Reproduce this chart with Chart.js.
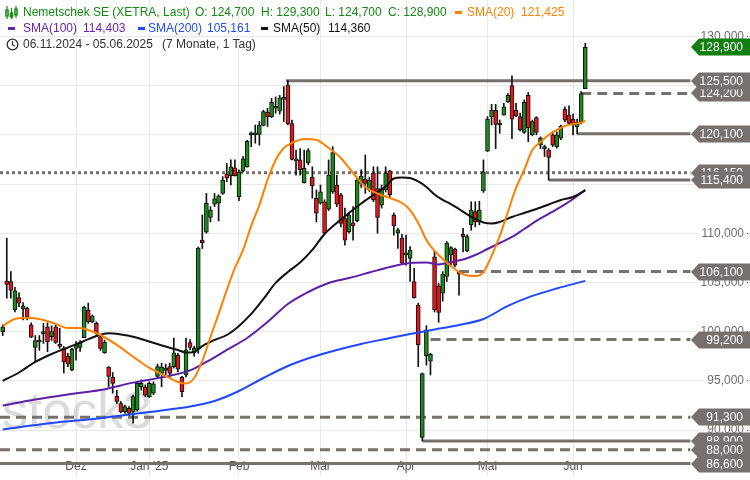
<!DOCTYPE html>
<html>
<head>
<meta charset="utf-8">
<script src="https://cdn.jsdelivr.net/npm/chart.js@4.4.1/dist/chart.umd.min.js"></script>
<style>
  body { margin: 0; background: #fff; }
  #wrap { position: relative; width: 750px; height: 480px; font-family: "Liberation Sans", Arial, sans-serif; font-size: 12px; }
  #c { position: absolute; left: 0; top: 0; }
  .row { position: absolute; left: 0; height: 15px; line-height: 15px; white-space: nowrap; }
  .row > * { position: absolute; top: 0; }
  .dash { display: inline-block; width: 7px; height: 3px; top: 6px !important; }
</style>
</head>
<body>
<div id="wrap">
  <canvas id="c" width="750" height="480"></canvas>
  <div class="row" id="r1" style="top:5px"></div>
  <div class="row" id="r2" style="top:21px"></div>
  <div class="row" id="r3" style="top:37px"></div>
</div>
<script>
// Tageskerzen Nemetschek SE (XETRA), 06.11.2024 - 05.06.2025, Index 0..143
const openP = [
  100.0, 105.15, 105.1, 102.2, 103.45, 102.3, 102.4, 100.7, 98.4, 98.95,
  99.8, 100.5, 99.5, 100.5, 98.7, 98.3, 97.5, 96.1, 98.3, 98.4,
  99.4, 102.2, 101.0, 100.85, 99.5, 97.85, 96.4, 95.35, 93.45, 92.7,
  91.85, 92.2, 91.85, 92.05, 94.4, 94.4, 93.4, 93.75, 95.45, 95.75,
  96.05, 96.45, 96.45, 97.6, 95.35, 95.6, 98.9, 97.85, 98.3, 109.3,
  110.1, 111.6, 112.95, 113.05, 114.05, 116.0, 115.85, 116.65, 113.7, 116.3,
  116.75, 120.0, 120.0, 120.05, 120.95, 122.3, 121.85, 122.7, 122.4, 123.6,
  125.05, 121.15, 117.4, 117.45, 115.15, 117.15, 115.7, 113.55, 113.05, 113.2,
  112.45, 114.2, 114.9, 113.9, 111.5, 110.15, 111.05, 111.25, 115.05, 115.5,
  114.4, 116.1, 114.55, 112.85, 114.4, 116.35, 111.85, 110.0, 109.5, 107.8,
  107.45, 105.1, 102.7, 89.25, 97.55, 97.0, 107.6, 104.65, 103.9, 105.6,
  107.8, 108.4, 106.0, 109.9, 108.2, 110.85, 112.2, 111.15, 114.3, 118.35,
  121.85, 122.5, 121.0, 122.0, 123.35, 125.0, 122.5, 121.85, 120.25, 124.0,
  120.0, 121.75, 118.95, 118.6, 118.45, 120.0, 118.8, 119.65, 122.6, 122.0,
  121.6, 120.8, 121.25, 124.7
];
const highP = [
  100.7, 109.5, 106.1, 104.5, 103.95, 102.95, 102.5, 100.9, 99.6, 99.6,
  100.85, 100.9, 100.6, 100.8, 100.35, 98.5, 97.8, 98.3, 99.0, 99.1,
  102.6, 102.9, 101.7, 101.0, 99.65, 99.15, 96.45, 95.85, 94.05, 92.9,
  92.55, 92.4, 93.55, 94.9, 95.1, 94.6, 94.9, 94.9, 96.7, 96.8,
  96.7, 96.8, 99.35, 97.8, 95.45, 99.35, 99.2, 98.5, 108.6, 111.85,
  114.05, 112.7, 114.05, 113.9, 115.75, 117.1, 117.45, 117.45, 116.45, 117.8,
  119.45, 120.3, 121.0, 121.35, 122.5, 122.7, 123.7, 123.85, 124.0, 124.9,
  125.5, 121.5, 118.45, 118.6, 118.45, 118.6, 116.75, 114.4, 114.9, 113.4,
  117.45, 118.8, 115.9, 114.05, 112.55, 112.05, 112.7, 115.7, 116.45, 117.95,
  115.7, 116.75, 116.75, 114.9, 116.75, 116.4, 112.05, 110.5, 109.9, 109.8,
  108.65, 106.45, 102.9, 95.8, 100.6, 97.8, 108.15, 104.9, 106.1, 109.15,
  108.65, 108.5, 106.1, 110.5, 109.85, 113.2, 113.2, 113.25, 117.45, 121.85,
  123.1, 123.1, 121.5, 123.2, 124.2, 126.0, 123.2, 122.2, 123.55, 124.3,
  121.5, 121.85, 119.8, 118.95, 118.6, 120.3, 120.3, 121.0, 122.85, 122.95,
  122.1, 121.6, 124.4, 129.3
];
const lowP = [
  99.6, 103.4, 103.4, 102.0, 102.55, 101.2, 101.2, 99.4, 96.95, 98.1,
  98.8, 97.95, 99.1, 98.8, 98.3, 95.8, 96.45, 96.0, 97.1, 98.0,
  99.4, 100.85, 100.9, 99.65, 98.1, 97.8, 94.4, 93.75, 92.7, 91.75,
  91.7, 91.5, 90.7, 91.95, 94.05, 93.4, 93.3, 93.6, 95.25, 94.4,
  95.6, 95.45, 96.3, 95.9, 93.4, 95.4, 98.15, 97.5, 97.8, 108.45,
  110.0, 111.15, 112.7, 111.25, 113.95, 115.25, 114.9, 115.8, 113.3, 116.2,
  116.7, 118.8, 119.15, 118.95, 120.9, 120.85, 121.75, 122.2, 122.1, 121.35,
  121.0, 117.45, 115.9, 115.9, 115.1, 116.95, 113.55, 111.15, 112.95, 109.95,
  112.3, 114.05, 112.7, 110.65, 108.8, 110.0, 109.3, 111.15, 114.65, 114.05,
  114.25, 113.2, 110.0, 112.55, 114.2, 113.7, 109.8, 108.45, 106.85, 106.75,
  105.1, 103.4, 96.45, 88.9, 96.6, 95.6, 102.0, 100.95, 103.1, 105.1,
  106.75, 106.6, 103.7, 108.1, 108.1, 110.3, 110.65, 110.85, 114.15, 118.3,
  121.0, 118.6, 120.15, 122.0, 123.3, 119.6, 121.85, 120.4, 120.15, 119.3,
  119.9, 120.0, 118.6, 117.8, 115.4, 118.8, 118.65, 119.5, 121.3, 121.0,
  120.0, 120.1, 121.1, 124.7
];
const closeP = [
  100.5, 104.8, 104.2, 104.15, 102.9, 102.6, 101.5, 99.45, 99.1, 99.05,
  99.85, 98.95, 100.0, 98.9, 98.5, 96.95, 96.7, 98.2, 98.65, 98.9,
  102.5, 101.0, 101.6, 99.85, 98.3, 98.95, 95.45, 94.75, 92.9, 91.85,
  92.4, 91.7, 93.4, 94.75, 94.75, 93.55, 94.75, 94.7, 96.45, 96.4,
  96.3, 95.75, 97.85, 96.2, 93.9, 98.15, 98.4, 98.3, 108.5, 109.05,
  113.05, 112.35, 113.5, 113.8, 115.4, 115.6, 116.75, 115.85, 116.25, 117.55,
  119.35, 120.05, 120.1, 121.0, 122.35, 121.85, 123.3, 122.8, 123.75, 123.7,
  121.1, 117.5, 117.35, 116.45, 116.6, 118.4, 114.8, 112.05, 114.2, 110.0,
  115.9, 118.2, 112.95, 111.0, 109.3, 111.85, 110.75, 115.4, 115.8, 115.05,
  115.4, 113.4, 111.6, 114.55, 116.1, 113.9, 110.75, 110.35, 106.95, 107.9,
  108.3, 103.45, 98.65, 95.75, 100.15, 97.7, 102.2, 101.95, 105.85, 109.0,
  108.55, 106.75, 105.85, 109.65, 109.65, 112.35, 111.15, 112.35, 116.25, 121.6,
  122.5, 121.05, 121.05, 122.85, 124.0, 121.6, 121.95, 120.5, 123.3, 120.7,
  121.35, 120.25, 119.65, 118.65, 117.7, 118.95, 120.0, 120.85, 121.5, 121.15,
  121.05, 121.3, 124.2, 128.9
];

const sma20Idx = [0,3,6,10,13,16,19,21,24,28,32,36,40,43,45,47,49,51,53,55,57,59,61,63,65,67,69,71,74,77,80,83,86,89,92,95,98,100,102,104,106,108,110,112,114,116,118,120,122,124,126,128,130,132,134,136,138,140,142,143];
const sma20Val = [100.58,101.29,101.42,101.19,100.78,100.37,100.37,100.17,99.66,98.65,97.46,96.31,95.50,94.89,94.73,95.29,97.02,99.46,101.80,104.23,106.47,108.30,110.74,112.87,115.41,117.44,118.66,119.17,119.58,119.48,118.66,117.65,116.12,114.70,114.04,113.58,113.07,112.36,111.04,109.31,108.20,107.38,106.67,106.06,105.71,105.66,106.06,107.69,109.72,112.16,114.60,116.43,118.46,119.27,119.98,120.49,120.90,121.10,121.25,121.425];
const sma50Idx = [0,4,8,12,16,20,23,26,29,32,36,40,43,45,47,49,52,55,58,61,64,67,70,73,76,79,82,85,88,91,94,96,98,100,102,104,106,108,110,112,114,116,118,120,122,125,128,131,134,137,140,143];
const sma50Val = [94.99,95.85,96.92,97.73,98.39,99.05,99.56,99.83,99.71,99.49,99.00,98.49,98.14,97.88,97.94,98.54,99.15,99.66,100.58,101.80,103.32,104.95,106.06,107.03,108.30,109.92,111.04,112.06,113.02,113.89,114.75,115.56,115.67,115.61,115.26,114.70,113.94,113.38,112.97,112.46,111.91,111.45,111.09,110.99,111.14,111.65,112.06,112.46,112.92,113.38,113.68,114.36];
const sma100Idx = [0,8,16,24,32,40,46,50,55,60,65,70,75,80,85,90,95,100,104,107,110,113,116,119,122,125,128,131,134,137,140,143];
const sma100Val = [92.50,93.11,93.62,94.07,94.82,95.43,96.06,96.92,98.14,99.36,100.98,102.81,104.03,104.95,105.45,106.01,106.57,106.98,107.03,106.83,107.08,107.33,107.79,108.40,109.01,109.62,110.43,111.25,111.96,112.67,113.48,114.403];
const sma200Idx = [0,12,24,36,46,52,58,64,70,76,82,88,94,100,106,112,118,124,130,136,143];
const sma200Val = [90.06,90.72,91.20,91.84,92.40,92.96,93.97,95.29,96.51,97.43,98.14,98.75,99.26,99.76,100.22,100.68,101.29,102.61,103.63,104.39,105.161];

// Achsen
const monthIdx = [18, 36, 58, 78, 99, 119, 140];
const monthNames = ['Dez', "Jan '25", 'Feb', 'Mär', 'Apr', 'Mai', 'Jun'];
const yTicks = [90, 95, 100, 105, 110, 115, 120, 125, 130];

// Marken (Unterstützung / Widerstand)
const levelVal = [124.2, 125.5, 120.1, 116.15, 115.4, 106.1, 99.2, 91.3, 88.9, 86.6, 88.0];
const levelFrom = [142, 69.5, 141, -1, 134, 112, 105, -1, 103, -1, -1];
const levelStyle = ['dash', 'solid', 'solid', 'dot', 'solid', 'dash', 'dash', 'dash', 'solid', 'solid', 'dash'];

const GRAY = '#76716e';
const fmt = v => v.toFixed(3).replace('.', ',');
const last = closeP.length - 1;

// Legende oben links
function put(row, left, html, color) {
  const s = document.createElement('span');
  s.style.left = left + 'px';
  if (color) s.style.color = color;
  s.innerHTML = html;
  document.getElementById(row).appendChild(s);
  return s;
}
function dash(row, left, color) {
  const s = put(row, left, '', null);
  s.className = 'dash';
  s.style.background = color;
}
const G = '#148a14';
put('r1', 5, '<svg width="13" height="15" viewBox="0 0 13 15"><g stroke="#148a14" stroke-width="1.2" fill="none"><line x1="2" y1="1" x2="2" y2="14"/><rect x="0.8" y="5" width="2.4" height="6"/><line x1="6.5" y1="3" x2="6.5" y2="14"/><rect x="5.3" y="8" width="2.4" height="4"/><line x1="11" y1="1" x2="11" y2="13"/><rect x="9.8" y="4" width="2.4" height="6"/></g></svg>', null);
put('r1', 23, 'Nemetschek SE (XETRA, Last)', G);
put('r1', 195, 'O: ' + fmt(openP[last]), G);
put('r1', 261, 'H: ' + fmt(highP[last]), G);
put('r1', 325, 'L: ' + fmt(lowP[last]), G);
put('r1', 388, 'C: ' + fmt(closeP[last]), G);
dash('r1', 455, '#ff8000');
put('r1', 467, 'SMA(20)', '#ff8000');
put('r1', 521, fmt(sma20Val[sma20Val.length - 1]), '#ff8000');

dash('r2', 8, '#6a22b0');
put('r2', 23, 'SMA(100)', '#6a22b0');
put('r2', 83, fmt(sma100Val[sma100Val.length - 1]), '#6a22b0');
dash('r2', 138, '#1e4dff');
put('r2', 148, 'SMA(200)', '#1e4dff');
put('r2', 207, fmt(sma200Val[sma200Val.length - 1]), '#1e4dff');
dash('r2', 261, '#111');
put('r2', 273, 'SMA(50)', '#111');
put('r2', 328, fmt(sma50Val[sma50Val.length - 1]), '#111');

put('r3', 6, '<svg width="13" height="15" viewBox="0 0 13 15"><circle cx="6.5" cy="7.5" r="5.3" stroke="#333" stroke-width="1.3" fill="none"/><path d="M6.5 4.3 V7.7 L8.8 9.3" stroke="#333" stroke-width="1.2" fill="none"/></svg>', null);
put('r3', 23, '06.11.2024 - 05.06.2025', '#333');
put('r3', 162, '(7 Monate, 1 Tag)', '#333');

// Datensätze
const idx = openP.map((_, i) => i);
const up = idx.map(i => closeP[i] >= openP[i]);
const wickData = idx.map(i => ({ x: i, y: [lowP[i], highP[i]] }));
const bodyData = idx.map(i => ({ x: i, y: [openP[i], closeP[i]] }));

function smaSet(ix, vals, color) {
  return {
    type: 'line', data: ix.map((x, k) => ({ x: x, y: vals[k] })),
    borderColor: color, borderWidth: 2, pointRadius: 0, tension: 0.35,
    cubicInterpolationMode: 'monotone', order: 0
  };
}

const X_MIN = -0.66, X_MAX = 181.71, LEVEL_END = 168.8;
const levelSets = levelVal.map((v, k) => ({
  type: 'line',
  data: [{ x: levelFrom[k] < 0 ? X_MIN : levelFrom[k], y: v }, { x: LEVEL_END, y: v }],
  borderColor: GRAY, borderWidth: 3, pointRadius: 0, borderCapStyle: 'butt',
  borderDash: levelStyle[k] === 'dash' ? [10, 6] : levelStyle[k] === 'dot' ? [3, 3] : [],
  order: 3
}));

const watermark = {
  id: 'watermark',
  beforeDatasetsDraw(chart) {
    const ctx = chart.ctx;
    ctx.save();
    ctx.font = '52px "Liberation Sans", Arial, sans-serif';
    ctx.fillStyle = 'rgba(190,190,190,0.55)';
    ctx.textBaseline = 'alphabetic';
    ctx.fillText('stock3', 2, 428);
    ctx.restore();
  }
};

const flags = {
  id: 'flags',
  afterDatasetsDraw(chart) {
    const ctx = chart.ctx, ys = chart.scales.y;
    const flag = (v, color) => {
      const y = Math.round(ys.getPixelForValue(v));
      ctx.fillStyle = color;
      ctx.beginPath();
      ctx.moveTo(691, y);
      ctx.lineTo(699, y - 8.5);
      ctx.lineTo(750, y - 8.5);
      ctx.lineTo(750, y + 8.5);
      ctx.lineTo(699, y + 8.5);
      ctx.closePath();
      ctx.fill();
      ctx.fillStyle = '#fff';
      ctx.font = '12px "Liberation Sans", Arial, sans-serif';
      ctx.textAlign = 'right';
      ctx.textBaseline = 'middle';
      ctx.fillText(fmt(v), 743, y + 0.5);
    };
    ctx.save();
    levelVal.forEach(v => flag(v, GRAY));
    flag(closeP[last], '#118011');
    ctx.restore();
  }
};

new Chart(document.getElementById('c'), {
  type: 'bar',
  data: {
    datasets: [
      smaSet(sma20Idx, sma20Val, '#ff8000'),
      smaSet(sma50Idx, sma50Val, '#111111'),
      smaSet(sma100Idx, sma100Val, '#5c1fa8'),
      smaSet(sma200Idx, sma200Val, '#1f48ff'),
      {
        type: 'bar', data: bodyData, order: 1,
        backgroundColor: idx.map(i => up[i] ? '#1b8a1b' : '#e8141a'),
        borderColor: '#111', borderWidth: 1, borderSkipped: false,
        barThickness: 4, grouped: false, minBarLength: 2
      },
      {
        type: 'bar', data: wickData, order: 2,
        backgroundColor: '#111', barThickness: 1, grouped: false
      },
      ...levelSets
    ]
  },
  options: {
    responsive: false,
    animation: false,
    devicePixelRatio: 1,
    layout: { padding: 0 },
    plugins: { legend: { display: false }, tooltip: { enabled: false } },
    scales: {
      x: {
        type: 'linear', min: X_MIN, max: X_MAX, offset: false,
        border: { display: false },
        grid: { color: '#e8e8e8', drawTicks: false, offset: false },
        afterBuildTicks: s => { s.ticks = monthIdx.map(v => ({ value: v })); },
        afterFit: s => { s.paddingLeft = 0; s.paddingRight = 0; },
        ticks: {
          mirror: true, padding: 2, autoSkip: false, maxRotation: 0, color: '#555',
          font: { size: 12, family: '"Liberation Sans", Arial, sans-serif' },
          callback: v => monthNames[monthIdx.indexOf(v)]
        }
      },
      y: {
        position: 'right', min: 85.334, max: 133.698,
        border: { display: false },
        grid: { color: '#e8e8e8', tickLength: 5, tickColor: '#333' },
        afterBuildTicks: s => { s.ticks = yTicks.filter(v => v >= s.min && v <= s.max).map(v => ({ value: v })); },
        afterFit: s => { s.paddingTop = 0; s.paddingBottom = 0; },
        ticks: {
          mirror: true, padding: 1, color: '#6e6e6e',
          showLabelBackdrop: true, backdropColor: '#fff', backdropPadding: { x: 3, y: 1 },
          font: { size: 12, family: '"Liberation Sans", Arial, sans-serif' },
          callback: v => fmt(v)
        }
      }
    }
  },
  plugins: [watermark, flags]
});
</script>
</body>
</html>
